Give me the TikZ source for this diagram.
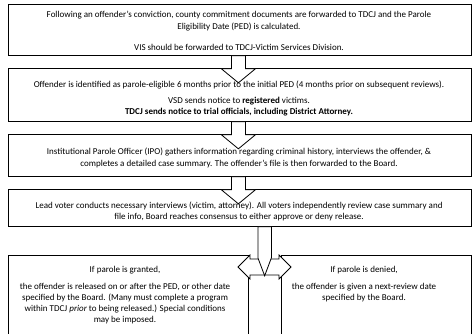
\documentclass[tikz,border=0pt]{standalone}
\usepackage{fontspec}
\setmainfont{Carlito}
\begin{document}
\begin{tikzpicture}[x=1pt,y=-1pt,
  box/.style={draw=black,line width=0.8pt,anchor=north west,inner sep=0pt},
  txt/.style={font=\fontsize{9}{11}\selectfont,anchor=base,inner sep=0pt},
  arr/.style={draw=black,fill=white,line width=0.8pt,line join=miter}]
\useasboundingbox (0,0) rectangle (472,333);
% boxes
\node[box,minimum width=463pt,minimum height=51pt] (b1) at (7.5,4) {};
\node[box,minimum width=463pt,minimum height=53pt] (b2) at (7.5,68) {};
\node[box,minimum width=463pt,minimum height=42pt] (b3) at (7.5,134) {};
\node[box,minimum width=463pt,minimum height=37pt] (b4) at (7.5,189) {};
\node[box,minimum width=240.5pt,minimum height=90pt] (b5l) at (7.5,255) {};
\node[box,minimum width=189.5pt,minimum height=90pt] (b5r) at (281,255) {};
% block arrows between boxes
\draw[arr] (b1.south) ++(-8,0) -- ++(0,13) -- ++(-10,0) -- ++(17,14) -- ++(17,-14) -- ++(-10,0) -- ++(0,-13) -- cycle;
\draw[arr] (b2.south) ++(-8,0) -- ++(0,13) -- ++(-10,0) -- ++(17,14) -- ++(17,-14) -- ++(-10,0) -- ++(0,-13) -- cycle;
\draw[arr] (b3.south) ++(-8,0) -- ++(0,13) -- ++(-10,0) -- ++(17,14) -- ++(17,-14) -- ++(-10,0) -- ++(0,-13) -- cycle;
% left-right arrow
\coordinate (lr) at (264.5,267);
\draw[arr] (lr) ++(-26.5,0) -- ++(12,-12) -- ++(0,4) -- ++(29,0) -- ++(0,-4) -- ++(12,12) -- ++(-12,12) -- ++(0,-4) -- ++(-29,0) -- ++(0,4) -- cycle;
% down arrow from box 4
\draw[arr] (b4.south) ++(18.5,0) -- ++(0,31) -- ++(6.75,18) -- ++(6.75,-18) -- ++(0,-31) -- cycle;
% texts
\node[txt] (t1a) at (239,17) {Following an offender's conviction, county commitment documents are forwarded to TDCJ and the Parole};
\node[txt] (t1b) at (239,29) {Eligibility Date (PED) is calculated.};
\node[txt] (t1c) at (239,50) {VIS should be forwarded to TDCJ-Victim Services Division.};
\node[txt] (t2a) at (239,87) {Offender is identified as parole-eligible 6 months prior to the initial PED (4 months prior on subsequent reviews).};
\node[txt] (t2b) at (239,103) {VSD sends notice to \textbf{registered} victims.};
\node[txt] (t2c) at (239,114) {\textbf{TDCJ sends notice to trial officials, including District Attorney.}};
\node[txt] (t3a) at (239,154) {Institutional Parole Officer (IPO) gathers information regarding criminal history, interviews the offender, \&};
\node[txt] (t3b) at (239,166) {completes a detailed case summary. The offender's file is then forwarded to the Board.};
\node[txt] (t4a) at (239,208) {Lead voter conducts necessary interviews (victim, attorney). All voters independently review case summary and};
\node[txt] (t4b) at (239,219) {file info, Board reaches consensus to either approve or deny release.};
\node[txt] (t5a) at (125,272) {If parole is granted,};
\node[txt] (t5b) at (125,289) {the offender is released on or after the PED, or other date};
\node[txt] (t5c) at (125,300) {specified by the Board. (Many must complete a program};
\node[txt] (t5d) at (125,311) {within TDCJ \textit{prior} to being released.) Special conditions};
\node[txt] (t5e) at (125,322) {may be imposed.};
\node[txt] (t6a) at (364,272) {If parole is denied,};
\node[txt] (t6b) at (364,289) {the offender is given a next-review date};
\node[txt] (t6c) at (364,300) {specified by the Board.};
\end{tikzpicture}
\end{document}
